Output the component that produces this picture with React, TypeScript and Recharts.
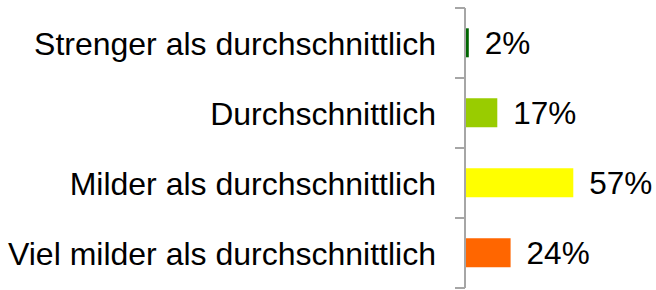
import { BarChart, Bar, XAxis, YAxis, Cell, LabelList } from 'recharts'

const categories = [
  'Strenger als durchschnittlich',
  'Durchschnittlich',
  'Milder als durchschnittlich',
  'Viel milder als durchschnittlich',
]
const shares = [2, 17, 57, 24]
const barColors = ['#006600', '#99cc00', '#ffff00', '#ff6600']

const W = 656
const H = 290
const MARGIN = { top: 8, right: 1, bottom: 2, left: 0 }
const AXIS_W = 465
const TICK_SIZE = 10
const TICK_MARGIN = 19
const FONT = '"Liberation Sans", Arial, sans-serif'

const data = categories.map((name, i) => ({ name, value: shares[i] }))

// category labels sit at the band centre, but the tick marks go on the band edges
function CategoryTick(props: any) {
  const { x, y, payload, index } = props
  const half = (H - MARGIN.top - MARGIN.bottom) / categories.length / 2
  const x1 = x + TICK_MARGIN
  const x2 = x1 + TICK_SIZE
  return (
    <g>
      <line x1={x1} x2={x2} y1={y - half} y2={y - half} stroke="#a6a6a6" strokeWidth={2} />
      {index === categories.length - 1 && (
        <line x1={x1} x2={x2} y1={y + half} y2={y + half} stroke="#a6a6a6" strokeWidth={2} />
      )}
      <text x={x} y={y + 1} textAnchor="end" dominantBaseline="central" fontSize={32} fill="#000" fontFamily={FONT}>
        {payload.value}
      </text>
    </g>
  )
}

export default function App() {
  return (
    <div style={{ position: 'absolute', left: 0, top: 0, width: W, height: H, background: '#fff' }}>
      <BarChart width={W} height={H} data={data} layout="vertical" margin={MARGIN} barCategoryGap="29%">
        <XAxis type="number" domain={[0, 100]} hide />
        <YAxis
          type="category"
          dataKey="name"
          width={AXIS_W}
          axisLine={{ stroke: '#a6a6a6', strokeWidth: 2 }}
          tickLine={false}
          tickSize={TICK_SIZE}
          tickMargin={TICK_MARGIN}
          tick={<CategoryTick />}
          interval={0}
        />
        <Bar dataKey="value" isAnimationActive={false}>
          {data.map((d, i) => (
            <Cell key={d.name} fill={barColors[i]} />
          ))}
          <LabelList
            dataKey="value"
            position="right"
            offset={16}
            formatter={(v: any) => `${v}%`}
            style={{ fontSize: 31.5, fill: '#000', fontFamily: FONT }}
          />
        </Bar>
      </BarChart>
    </div>
  )
}
